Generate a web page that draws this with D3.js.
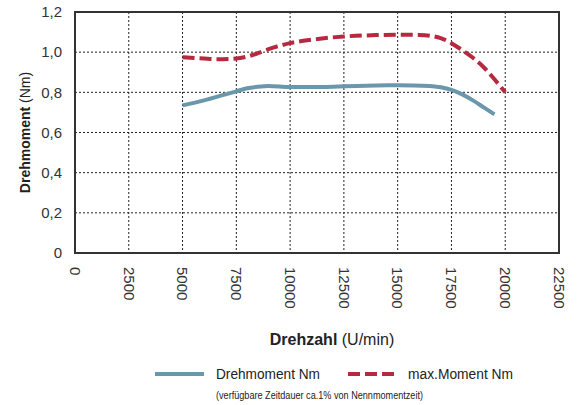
<!DOCTYPE html>
<html>
<head>
<meta charset="utf-8">
<script src="https://cdn.jsdelivr.net/npm/d3@7"></script>
<style>
  body { margin: 0; background: #fff; }
  svg { display: block; }
</style>
</head>
<body>
<div id="chart-area"></div>
<script>
// data
var xTicks = [0, 2500, 5000, 7500, 10000, 12500, 15000, 17500, 20000, 22500];
var yTicks = [0, 0.2, 0.4, 0.6, 0.8, 1.0, 1.2];

var drehRpm =    [5000, 6000, 7000, 7500, 8000, 8500, 9000, 10000, 11000, 12500, 14000, 15000, 16500, 17000, 17500, 18000, 18500, 19000, 19500];
var drehMoment = [0.735, 0.76, 0.79, 0.805, 0.82, 0.828, 0.832, 0.826, 0.826, 0.83, 0.834, 0.835, 0.832, 0.825, 0.812, 0.79, 0.76, 0.725, 0.69];

var maxRpm =    [5000, 6000, 6500, 7500, 8000, 8500, 9000, 10000, 11000, 12500, 14000, 15000, 16000, 16500, 17000, 17500, 18000, 18500, 19000, 19500, 20000];
var maxMoment = [0.975, 0.968, 0.965, 0.968, 0.978, 0.995, 1.015, 1.045, 1.062, 1.078, 1.085, 1.087, 1.086, 1.082, 1.07, 1.045, 1.01, 0.972, 0.925, 0.865, 0.8];

var margins = { left: 75, right: 18, top: 12, bottom: 152 };
var W = 577, H = 405;
var width = W - margins.left - margins.right;
var height = H - margins.top - margins.bottom;

var svg = d3.select("#chart-area").append("svg")
    .attr("width", W)
    .attr("height", H)
    .style("font-family", "'Liberation Sans', Arial, sans-serif");

var g = svg.append("g")
    .attr("transform", "translate(" + margins.left + "," + margins.top + ")");

var x = d3.scaleLinear().domain([0, 22500]).range([0, width]);
var y = d3.scaleLinear().domain([0, 1.2]).range([height, 0]);

// grid
g.selectAll(".vgrid").data(xTicks.slice(1, -1)).enter().append("line")
    .attr("x1", function(d){ return x(d); }).attr("x2", function(d){ return x(d); })
    .attr("y1", 0).attr("y2", height)
    .attr("stroke", "#222").attr("stroke-width", 1).attr("stroke-dasharray", "2,2");
g.selectAll(".hgrid").data(yTicks.slice(1, -1)).enter().append("line")
    .attr("x1", 0).attr("x2", width)
    .attr("y1", function(d){ return y(d); }).attr("y2", function(d){ return y(d); })
    .attr("stroke", "#222").attr("stroke-width", 1).attr("stroke-dasharray", "2,2");

// frame
g.append("rect")
    .attr("width", width).attr("height", height)
    .attr("fill", "none").attr("stroke", "#333").attr("stroke-width", 2);

// y tick labels
g.selectAll(".ylab").data(yTicks).enter().append("text")
    .attr("x", -13)
    .attr("y", function(d){ return y(d); })
    .attr("dy", "0.35em")
    .attr("text-anchor", "end")
    .attr("font-size", "15px")
    .attr("fill", "#333")
    .text(function(d){ return d === 0 ? "0" : d3.format(".1f")(d).replace(".", ","); });

// x tick labels, rotated
g.selectAll(".xlab").data(xTicks).enter().append("text")
    .attr("transform", function(d){ return "translate(" + x(d) + "," + (height + 14) + ") rotate(90)"; })
    .attr("dy", "0.35em")
    .attr("text-anchor", "start")
    .attr("font-size", "15px")
    .attr("fill", "#333")
    .text(function(d){ return d; });

// lines
var line = d3.line().curve(d3.curveMonotoneX)
    .x(function(d){ return x(d[0]); })
    .y(function(d){ return y(d[1]); });

g.append("path")
    .datum(d3.zip(drehRpm, drehMoment))
    .attr("fill", "none")
    .attr("stroke", "#6b97ad")
    .attr("stroke-width", 4)
    .attr("d", line);

g.append("path")
    .datum(d3.zip(maxRpm, maxMoment))
    .attr("fill", "none")
    .attr("stroke", "#b8283f")
    .attr("stroke-width", 4)
    .attr("stroke-dasharray", "12,5")
    .attr("d", line);

// axis titles
var yt = svg.append("text")
    .attr("transform", "translate(30," + (margins.top + height / 2) + ") rotate(-90)")
    .attr("text-anchor", "middle")
    .attr("font-size", "14px")
    .attr("fill", "#222");
yt.append("tspan").attr("font-weight", "bold").text("Drehmoment");
yt.append("tspan").text(" (Nm)");

var xt = svg.append("text")
    .attr("x", 332).attr("y", 345)
    .attr("text-anchor", "middle")
    .attr("font-size", "16px")
    .attr("fill", "#222");
xt.append("tspan").attr("font-weight", "bold").text("Drehzahl");
xt.append("tspan").text(" (U/min)");

// legend
svg.append("line").attr("x1", 155).attr("x2", 204).attr("y1", 374).attr("y2", 374)
    .attr("stroke", "#6b97ad").attr("stroke-width", 4);
svg.append("text").attr("x", 216).attr("y", 379)
    .attr("font-size", "14px").attr("fill", "#222")
    .attr("textLength", 104).attr("lengthAdjust", "spacingAndGlyphs")
    .text("Drehmoment Nm");
svg.append("line").attr("x1", 348).attr("x2", 398).attr("y1", 374).attr("y2", 374)
    .attr("stroke", "#b8283f").attr("stroke-width", 4).attr("stroke-dasharray", "12,5");
svg.append("text").attr("x", 408).attr("y", 379)
    .attr("font-size", "14px").attr("fill", "#222")
    .attr("textLength", 105).attr("lengthAdjust", "spacingAndGlyphs")
    .text("max.Moment Nm");
svg.append("text").attr("x", 216).attr("y", 399)
    .attr("font-size", "10px").attr("fill", "#222")
    .attr("textLength", 207).attr("lengthAdjust", "spacingAndGlyphs")
    .text("(verfügbare Zeitdauer ca.1% von Nennmomentzeit)");
</script>
</body>
</html>
